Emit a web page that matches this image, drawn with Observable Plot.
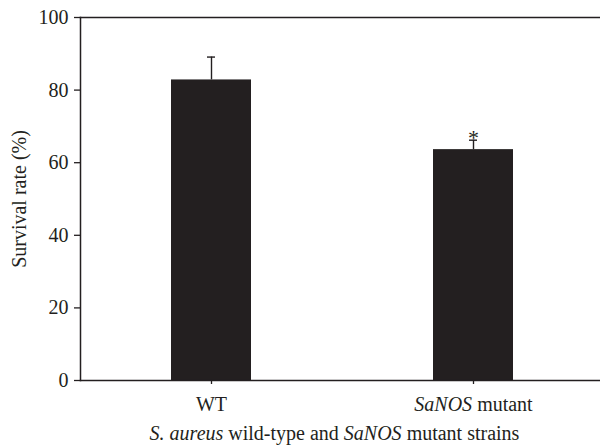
<!DOCTYPE html>
<html>
<head>
<meta charset="utf-8">
<script src="https://cdn.jsdelivr.net/npm/d3@7"></script>
<script src="https://cdn.jsdelivr.net/npm/@observablehq/plot@0.6"></script>
<style>
  html, body { margin: 0; padding: 0; background: #fff; }
  #chart svg { display: block; }
</style>
</head>
<body>
<div id="chart"></div>
<script>
const strains = ["WT", "SaNOS mutant"];
const survival = [82.8, 63.6];
const errors = [6.3, 2.6];
const significance = ["", "*"];
const yTicks = [0, 20, 40, 60, 80, 100];

const data = strains.map((s, i) => ({
  strain: s, value: survival[i], err: errors[i], sig: significance[i]
}));

const font = "'Liberation Serif', 'Times New Roman', serif";
const ink = "#231f20";

const chart = Plot.plot({
  width: 600,
  height: 447,
  marginTop: 17,
  marginBottom: 67,
  marginLeft: 80,
  marginRight: 0,
  style: { fontFamily: font, fontSize: "20px", color: ink, background: "#fff" },
  x: {
    domain: strains,
    range: [80, 604],
    paddingInner: 0.695,
    paddingOuter: 0.3475,
    align: 0.5
  },
  y: { domain: [0, 100], range: [380, 17] },
  marks: [
    Plot.barY(data, { x: "strain", y: "value", fill: ink }),
    Plot.ruleX(data, { x: "strain", y1: "value", y2: d => d.value + d.err, stroke: ink, strokeWidth: 1.4 }),
    Plot.tickY(data, { x: "strain", y: d => d.value + d.err, stroke: ink, strokeWidth: 1.4, insetLeft: 36, insetRight: 36 }),
    Plot.text(data, { x: "strain", y: d => d.value + d.err, text: "sig", lineAnchor: "bottom", dy: 5, fontSize: 22, fill: ink }),
    Plot.frame({ anchor: "left", stroke: ink, strokeWidth: 1.5 }),
    Plot.frame({ anchor: "top", stroke: ink, strokeWidth: 1.5 }),
    Plot.frame({ anchor: "bottom", stroke: ink, strokeWidth: 1.5 }),
    Plot.axisY({ ticks: yTicks, tickSize: 6, tickPadding: 6, fontSize: 20, label: "Survival rate (%)", labelAnchor: "center", labelArrow: "none", labelOffset: 69, stroke: ink, strokeWidth: 1.3, fill: ink }),
    Plot.axisX({ tickSize: 4, tickPadding: 12, fontSize: 20, label: "S. aureus wild-type and SaNOS mutant strains", labelAnchor: "center", labelArrow: "none", labelOffset: 59, stroke: ink, strokeWidth: 1.3, fill: ink })
  ]
});

document.getElementById("chart").appendChild(chart);

// Rich text: italics for species / gene names
const svg = d3.select(chart);
svg.selectAll("text").each(function () {
  const t = d3.select(this);
  const tx = t.text();
  if (tx === "SaNOS mutant") {
    t.text(null);
    t.append("tspan").attr("font-style", "italic").text("SaNOS");
    t.append("tspan").text(" mutant");
  } else if (tx.startsWith("S. aureus wild-type")) {
    t.text(null);
    t.attr("dx", -6);
    t.append("tspan").attr("font-style", "italic").text("S. aureus");
    t.append("tspan").text(" wild-type and ");
    t.append("tspan").attr("font-style", "italic").text("SaNOS");
    t.append("tspan").text(" mutant strains");
  }
});
</script>
</body>
</html>
